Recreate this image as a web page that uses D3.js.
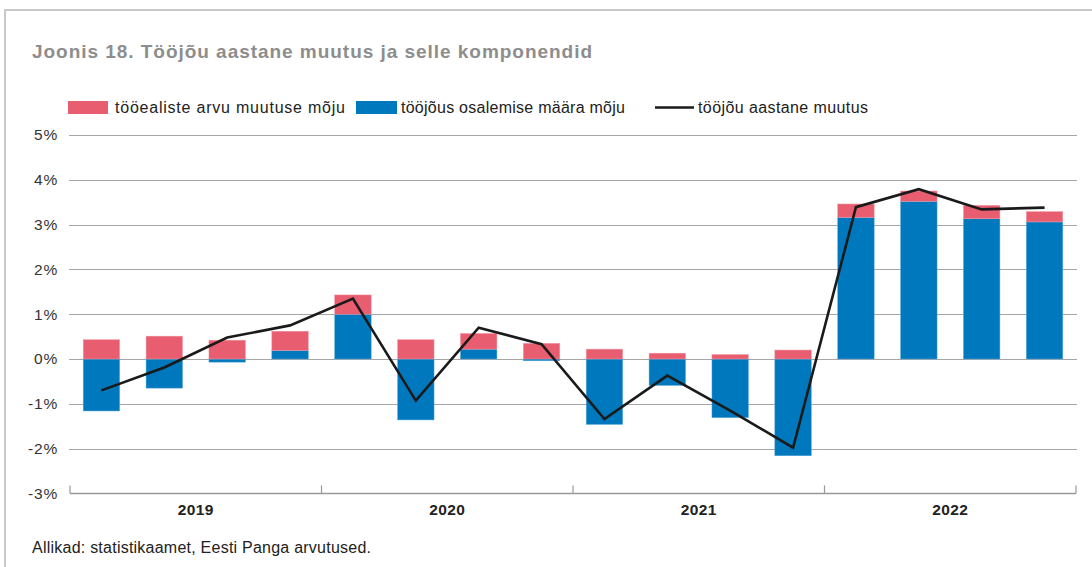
<!DOCTYPE html>
<html>
<head>
<meta charset="utf-8">
<script src="https://cdn.jsdelivr.net/npm/d3@7"></script>
<style>
  html, body { margin: 0; padding: 0; background: #fff; }
  svg { display: block; font-family: "Liberation Sans", Arial, Helvetica, sans-serif; }
</style>
</head>
<body>
<svg id="chart" width="1092" height="567"></svg>
<script>
// ---- data ----
const quarters = ["2019Q1","2019Q2","2019Q3","2019Q4","2020Q1","2020Q2","2020Q3","2020Q4",
                  "2021Q1","2021Q2","2021Q3","2021Q4","2022Q1","2022Q2","2022Q3","2022Q4"];
const years = ["2019","2020","2021","2022"];
const populationEffect = [0.43, 0.51, 0.42, 0.43, 0.43, 0.43, 0.35, 0.35, 0.22, 0.13, 0.10, 0.20, 0.30, 0.23, 0.30, 0.23];
const participationEffect = [-1.16, -0.65, -0.07, 0.19, 1.00, -1.36, 0.22, -0.04, -1.46, -0.59, -1.31, -2.16, 3.16, 3.52, 3.13, 3.06];
const laborForceChange = [-0.70, -0.19, 0.48, 0.75, 1.35, -0.93, 0.70, 0.33, -1.34, -0.37, -1.15, -1.98, 3.39, 3.79, 3.34, 3.38];
const yTicks = [-3, -2, -1, 0, 1, 2, 3, 4, 5];
const seriesNames = ["tööealiste arvu muutuse mõju", "tööjõus osalemise määra mõju", "tööjõu aastane muutus"];
const titleText = "Joonis 18. Tööjõu aastane muutus ja selle komponendid";
const sourceText = "Allikad: statistikaamet, Eesti Panga arvutused.";

// ---- styles ----
const RED = "#e85d70", BLUE = "#0078bd";

const svg = d3.select("#chart");

// frame
svg.append("line").attr("x1", 4).attr("x2", 1092).attr("y1", 10).attr("y2", 10)
  .attr("stroke", "#c9c9c9").attr("stroke-width", 2);
svg.append("line").attr("x1", 5).attr("x2", 5).attr("y1", 9).attr("y2", 567)
  .attr("stroke", "#c9c9c9").attr("stroke-width", 2);

// title
svg.append("text").attr("x", 32).attr("y", 58).text(titleText)
  .attr("fill", "#8d8d8d").attr("font-size", 19).attr("font-weight", "bold")
  .attr("textLength", 560).attr("lengthAdjust", "spacing");

const x0 = 70, x1 = 1076;
const y = d3.scaleLinear().domain([-3, 5]).range([493.4, 135]);
const x = d3.scaleBand().domain(quarters).range([x0, x1]).paddingInner(0.42).paddingOuter(0.21);
const xc = d3.scaleBand().domain(quarters).range([x0, x1]);
const xYear = d3.scaleBand().domain(years).range([x0, x1]);

// gridlines
svg.append("g").selectAll("line").data(yTicks.filter(d => d > -3)).join("line")
  .attr("x1", x0 - 1).attr("x2", x1 + 1)
  .attr("y1", d => Math.round(y(d)) + 0.5).attr("y2", d => Math.round(y(d)) + 0.5)
  .attr("stroke", "#a6a6a6").attr("stroke-width", 1.2);

// y axis labels
const yAxis = d3.axisLeft(y).tickValues(yTicks).tickSize(0).tickPadding(0).tickFormat(d => d + "%");
const gy = svg.append("g").attr("transform", `translate(58,0)`).call(yAxis);
gy.select(".domain").remove();
gy.selectAll("text").attr("font-size", 15.5).attr("fill", "#333").attr("letter-spacing", 0.8)
  .attr("font-family", "Liberation Sans, Arial, sans-serif");

// bars
const stacks = quarters.map((q, i) => {
  const p = participationEffect[i], r = populationEffect[i];
  const pos0 = Math.max(p, 0);
  return { q, blue: [Math.min(p, 0), Math.max(p, 0)], red: [pos0, pos0 + r] };
});
const bars = svg.append("g");
bars.selectAll("rect.blue").data(stacks).join("rect").attr("class", "blue")
  .attr("x", d => x(d.q)).attr("width", x.bandwidth())
  .attr("y", d => y(d.blue[1])).attr("height", d => y(d.blue[0]) - y(d.blue[1]))
  .attr("fill", BLUE).attr("stroke", "#5aa9dc").attr("stroke-width", 0.5);
bars.selectAll("rect.red").data(stacks).join("rect").attr("class", "red")
  .attr("x", d => x(d.q)).attr("width", x.bandwidth())
  .attr("y", d => y(d.red[1])).attr("height", d => y(d.red[0]) - y(d.red[1]))
  .attr("fill", RED).attr("stroke", "#f19aa5").attr("stroke-width", 0.5);

// x axis
const xAxis = d3.axisBottom(xYear).tickSize(0).tickPadding(11);
const gx = svg.append("g").attr("transform", `translate(0,${y(-3)})`).call(xAxis);
gx.select(".domain").remove();
gx.selectAll("text").attr("font-size", 15.5).attr("font-weight", "bold").attr("fill", "#222")
  .attr("letter-spacing", 0.4).attr("font-family", "Liberation Sans, Arial, sans-serif");
svg.append("line").attr("x1", x0).attr("x2", x1).attr("y1", y(-3)).attr("y2", y(-3))
  .attr("stroke", "#999").attr("stroke-width", 1.5);
const sepTicks = years.map(yv => xYear(yv)).concat([x1]);
svg.append("g").selectAll("line").data(sepTicks).join("line")
  .attr("x1", d => d).attr("x2", d => d).attr("y1", y(-3) - 8).attr("y2", y(-3))
  .attr("stroke", "#999").attr("stroke-width", 1.2);

// line
const line = d3.line().x((d, i) => xc(quarters[i]) + xc.bandwidth() / 2).y(d => y(d));
svg.append("path").datum(laborForceChange).attr("d", line)
  .attr("fill", "none").attr("stroke", "#1a1a1a").attr("stroke-width", 2.6).attr("stroke-linejoin", "miter");

// legend
const lg = svg.append("g").attr("font-size", 16).attr("fill", "#222");
lg.append("rect").attr("x", 68).attr("y", 101).attr("width", 40).attr("height", 13).attr("fill", RED);
lg.append("text").attr("x", 115).attr("y", 113).text(seriesNames[0])
  .attr("textLength", 230).attr("lengthAdjust", "spacing");
lg.append("rect").attr("x", 356).attr("y", 101).attr("width", 41).attr("height", 13).attr("fill", BLUE);
lg.append("text").attr("x", 401).attr("y", 113).text(seriesNames[1])
  .attr("textLength", 224).attr("lengthAdjust", "spacing");
lg.append("line").attr("x1", 655).attr("x2", 694).attr("y1", 107.5).attr("y2", 107.5)
  .attr("stroke", "#1a1a1a").attr("stroke-width", 2.6);
lg.append("text").attr("x", 698).attr("y", 113).text(seriesNames[2])
  .attr("textLength", 170).attr("lengthAdjust", "spacing");

// source
svg.append("text").attr("x", 32).attr("y", 553).text(sourceText)
  .attr("font-size", 16).attr("fill", "#222")
  .attr("textLength", 339).attr("lengthAdjust", "spacing");
</script>
</body>
</html>
